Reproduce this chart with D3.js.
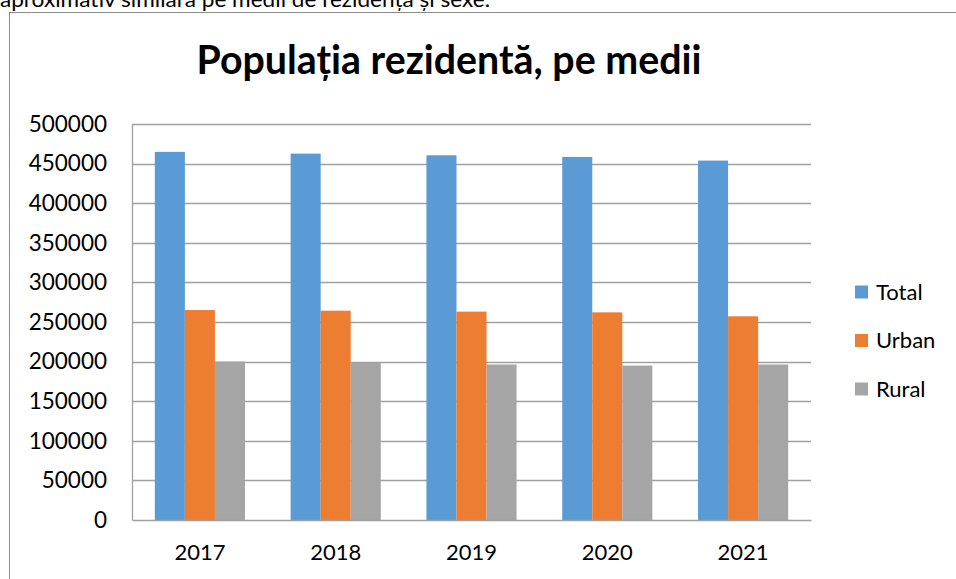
<!DOCTYPE html>
<html>
<head>
<meta charset="utf-8">
<script src="https://cdn.jsdelivr.net/npm/d3@7"></script>
<style>
  body { margin: 0; background: #fff; overflow: hidden; }
  text { font-family: Lato, "Open Sans", sans-serif; fill: #000; }
</style>
</head>
<body>
<div id="chart"></div>
<script>
/**
 * DATA
 * */
const years = ["2017", "2018", "2019", "2020", "2021"];
const seriesNames = ["Total", "Urban", "Rural"];
const totalValues = [464800, 462600, 460500, 458400, 453800];
const urbanValues = [265100, 264300, 263100, 262200, 257200];
const ruralValues = [200100, 198300, 196300, 195000, 196300];
const yTicks = [0, 50000, 100000, 150000, 200000, 250000, 300000, 350000, 400000, 450000, 500000];
const colors = ["#5b9bd5", "#ed7d31", "#a5a5a5"];

const width = 956,
  height = 579;
const plot = { left: 132, right: 811, top: 124, bottom: 520 };

const svg = d3.select("#chart")
  .append("svg")
  .attr("width", width)
  .attr("height", height);

// text of the page above the chart (cut off at the top, as in the source)
svg.append("text")
  .attr("x", 0)
  .attr("y", 7)
  .attr("font-size", 21)
  .attr("textLength", 490)
  .attr("lengthAdjust", "spacingAndGlyphs")
  .text("aproximativ similară pe medii de rezidență și sexe.");

// chart frame
svg.append("rect")
  .attr("x", 9.5)
  .attr("y", 12.5)
  .attr("width", 960)
  .attr("height", 600)
  .attr("fill", "none")
  .attr("stroke", "#8c8c8c")
  .attr("stroke-width", 1);

// title
const title = svg.append("text")
  .attr("x", 449)
  .attr("y", 74)
  .attr("text-anchor", "middle")
  .attr("font-weight", "bold")
  .attr("font-size", 38)
  .text("Populația rezidentă, pe medii");
const tw = title.node().getComputedTextLength();
title.attr("font-size", 38 * 505 / tw);

/* SCALES */
const x0 = d3.scaleBand()
  .domain(years)
  .range([plot.left, plot.right]);

const x1 = d3.scaleBand()
  .domain(seriesNames)
  .range([0, x0.bandwidth()])
  .paddingInner(0)
  .paddingOuter(0.76);

const y = d3.scaleLinear()
  .domain([0, 500000])
  .range([plot.bottom, plot.top]);

// gridlines
svg.append("g")
  .selectAll("line")
  .data(yTicks.filter(d => d > 0))
  .join("line")
  .attr("x1", plot.left)
  .attr("x2", plot.right)
  .attr("y1", d => Math.round(y(d)) + 0.5)
  .attr("y2", d => Math.round(y(d)) + 0.5)
  .attr("stroke", "#a0a0a0")
  .attr("stroke-width", 1.3);

// y axis
const yAxis = svg.append("g")
  .attr("transform", `translate(${plot.left},0)`)
  .call(d3.axisLeft(y).tickValues(yTicks).tickSize(0).tickPadding(25).tickFormat(d3.format("d")));
yAxis.select(".domain").attr("stroke", "#a0a0a0").attr("stroke-width", 1.3);
yAxis.selectAll("text")
  .attr("font-size", 22.5)
  .attr("font-family", "Lato, sans-serif")
  .attr("fill", "#000");

// bars
const rows = years.map((yr, i) => ({
  year: yr,
  values: [totalValues[i], urbanValues[i], ruralValues[i]]
}));

svg.append("g")
  .selectAll("g")
  .data(rows)
  .join("g")
  .attr("transform", d => `translate(${x0(d.year)},0)`)
  .selectAll("rect")
  .data(d => d.values.map((v, k) => ({ name: seriesNames[k], value: v, k })))
  .join("rect")
  .attr("x", d => x1(d.name))
  .attr("width", x1.bandwidth())
  .attr("y", d => y(d.value))
  .attr("height", d => y(0) - y(d.value))
  .attr("fill", d => colors[d.k]);

// x axis
const xAxis = svg.append("g")
  .attr("transform", `translate(0,${plot.bottom})`)
  .call(d3.axisBottom(x0).tickSize(0).tickPadding(24));
xAxis.select(".domain").attr("stroke", "#a0a0a0").attr("stroke-width", 1.3);
xAxis.selectAll("text")
  .attr("font-size", 22)
  .attr("font-family", "Lato, sans-serif")
  .attr("fill", "#000");

// legend
const legend = svg.append("g")
  .selectAll("g")
  .data(seriesNames)
  .join("g")
  .attr("transform", (d, i) => `translate(855,${292 + i * 48.5})`);
legend.append("rect")
  .attr("x", 0)
  .attr("y", -6.5)
  .attr("width", 13)
  .attr("height", 13)
  .attr("fill", (d, i) => colors[i]);
legend.append("text")
  .attr("x", 21)
  .attr("y", 0)
  .attr("dy", "0.35em")
  .attr("font-size", 22)
  .text(d => d);
</script>
</body>
</html>
